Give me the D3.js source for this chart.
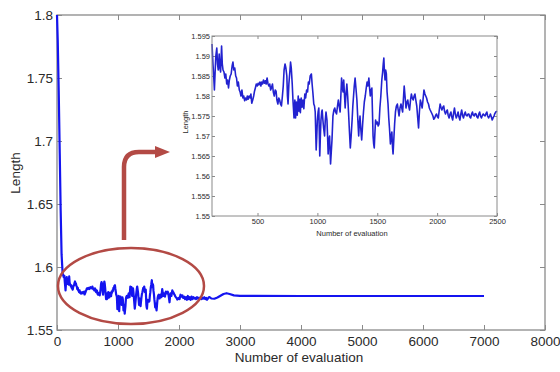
<!DOCTYPE html>
<html>
<head>
<meta charset="utf-8">
<script src="https://cdn.jsdelivr.net/npm/d3@7"></script>
<style>
body { margin: 0; background: #fff; }
text { font-family: "Liberation Sans", Arial, sans-serif; fill: #2a2a2a; }
</style>
</head>
<body>
<div id="chart"></div>
<script>
// first evaluations: the steep drop from 1.8
const headRun = [[0, 1.8], [12, 1.78], [28, 1.74], [45, 1.69], [60, 1.645], [75, 1.61], [92, 1.595], [110, 1.592]];

// evaluations 120..2500 (shown in the inset)
const zoomRun = [
  [120, 1.5930], [128, 1.5880], [134, 1.5850], [140, 1.5815], [146, 1.5860], [152, 1.5900], [160, 1.5920],
  [166, 1.5880], [172, 1.5865], [180, 1.5905], [186, 1.5870], [192, 1.5860], [200, 1.5925], [206, 1.5880],
  [212, 1.5865], [220, 1.5860], [228, 1.5845], [235, 1.5855], [243, 1.5830], [250, 1.5840], [258, 1.5820],
  [265, 1.5840], [272, 1.5850], [280, 1.5855], [288, 1.5875], [295, 1.5885], [302, 1.5865], [310, 1.5870],
  [318, 1.5850], [325, 1.5845], [332, 1.5825], [340, 1.5835], [348, 1.5815], [355, 1.5810], [362, 1.5800],
  [370, 1.5815], [378, 1.5795], [385, 1.5800], [393, 1.5788], [400, 1.5795], [408, 1.5790], [415, 1.5800],
  [422, 1.5792], [430, 1.5800], [438, 1.5795], [445, 1.5805], [452, 1.5782], [460, 1.5790], [468, 1.5800],
  [475, 1.5812], [482, 1.5820], [490, 1.5830], [498, 1.5825], [505, 1.5832], [512, 1.5828], [520, 1.5835],
  [528, 1.5825], [535, 1.5835], [542, 1.5830], [550, 1.5840], [558, 1.5832], [565, 1.5838], [572, 1.5830],
  [580, 1.5845], [588, 1.5830], [595, 1.5825], [602, 1.5830], [610, 1.5815], [618, 1.5822], [625, 1.5830],
  [632, 1.5810], [640, 1.5800], [648, 1.5815], [655, 1.5812], [662, 1.5790], [670, 1.5780], [678, 1.5795],
  [685, 1.5790], [692, 1.5780], [700, 1.5775], [708, 1.5800], [715, 1.5825], [722, 1.5865], [730, 1.5880],
  [737, 1.5870], [745, 1.5850], [750, 1.5800], [755, 1.5780], [762, 1.5830], [770, 1.5860], [776, 1.5885],
  [782, 1.5870], [790, 1.5830], [796, 1.5790], [800, 1.5770], [805, 1.5745], [812, 1.5790], [818, 1.5745],
  [825, 1.5785], [832, 1.5752], [840, 1.5800], [846, 1.5762], [852, 1.5792], [858, 1.5758], [865, 1.5795],
  [872, 1.5772], [880, 1.5790], [887, 1.5768], [895, 1.5805], [902, 1.5795], [910, 1.5815], [918, 1.5810],
  [925, 1.5835], [932, 1.5830], [940, 1.5850], [950, 1.5855], [956, 1.5830], [962, 1.5810], [970, 1.5780],
  [976, 1.5775], [982, 1.5760], [990, 1.5665], [995, 1.5700], [1000, 1.5740], [1006, 1.5760], [1012, 1.5770],
  [1020, 1.5650], [1025, 1.5700], [1030, 1.5740], [1036, 1.5760], [1040, 1.5765], [1046, 1.5740],
  [1052, 1.5720], [1060, 1.5700], [1066, 1.5740], [1072, 1.5760], [1080, 1.5740], [1085, 1.5700],
  [1090, 1.5655], [1096, 1.5690], [1102, 1.5700], [1110, 1.5630], [1116, 1.5660], [1122, 1.5690],
  [1130, 1.5750], [1138, 1.5765], [1145, 1.5770], [1152, 1.5760], [1160, 1.5755], [1168, 1.5775],
  [1175, 1.5790], [1182, 1.5775], [1190, 1.5760], [1196, 1.5800], [1202, 1.5845], [1208, 1.5825],
  [1214, 1.5810], [1220, 1.5840], [1226, 1.5805], [1232, 1.5770], [1240, 1.5810], [1246, 1.5830],
  [1253, 1.5800], [1260, 1.5760], [1268, 1.5710], [1275, 1.5670], [1282, 1.5700], [1290, 1.5740],
  [1296, 1.5775], [1302, 1.5800], [1308, 1.5825], [1315, 1.5845], [1322, 1.5820], [1330, 1.5790],
  [1338, 1.5740], [1345, 1.5700], [1350, 1.5730], [1356, 1.5750], [1362, 1.5720], [1370, 1.5690],
  [1378, 1.5730], [1385, 1.5760], [1392, 1.5785], [1400, 1.5800], [1408, 1.5820], [1415, 1.5835],
  [1422, 1.5825], [1430, 1.5845], [1436, 1.5820], [1442, 1.5800], [1448, 1.5815], [1455, 1.5820],
  [1460, 1.5760], [1465, 1.5700], [1470, 1.5680], [1475, 1.5670], [1480, 1.5705], [1486, 1.5740],
  [1493, 1.5730], [1500, 1.5735], [1508, 1.5725], [1515, 1.5730], [1522, 1.5770], [1530, 1.5800],
  [1538, 1.5840], [1545, 1.5860], [1550, 1.5880], [1555, 1.5895], [1560, 1.5860], [1565, 1.5840],
  [1570, 1.5865], [1576, 1.5855], [1582, 1.5810], [1590, 1.5780], [1596, 1.5745], [1602, 1.5720],
  [1610, 1.5680], [1616, 1.5700], [1622, 1.5710], [1628, 1.5670], [1632, 1.5655], [1638, 1.5690],
  [1645, 1.5730], [1652, 1.5760], [1660, 1.5775], [1668, 1.5780], [1675, 1.5765], [1682, 1.5750],
  [1690, 1.5770], [1698, 1.5780], [1705, 1.5770], [1712, 1.5760], [1718, 1.5790], [1725, 1.5825],
  [1732, 1.5800], [1740, 1.5770], [1748, 1.5785], [1755, 1.5790], [1762, 1.5775], [1770, 1.5765],
  [1778, 1.5790], [1785, 1.5805], [1792, 1.5795], [1800, 1.5790], [1808, 1.5800], [1815, 1.5805],
  [1822, 1.5790], [1830, 1.5775], [1838, 1.5745], [1845, 1.5720], [1852, 1.5760], [1860, 1.5790],
  [1868, 1.5780], [1875, 1.5770], [1882, 1.5790], [1890, 1.5815], [1898, 1.5805], [1905, 1.5800],
  [1912, 1.5795], [1920, 1.5785], [1928, 1.5780], [1935, 1.5770], [1942, 1.5765], [1950, 1.5760],
  [1958, 1.5755], [1965, 1.5750], [1972, 1.5742], [1980, 1.5745], [1988, 1.5752], [1995, 1.5755],
  [2002, 1.5748], [2010, 1.5745], [2018, 1.5765], [2025, 1.5780], [2032, 1.5772], [2040, 1.5765],
  [2048, 1.5772], [2055, 1.5775], [2062, 1.5762], [2070, 1.5755], [2078, 1.5762], [2085, 1.5765],
  [2092, 1.5752], [2100, 1.5745], [2108, 1.5755], [2115, 1.5760], [2122, 1.5748], [2130, 1.5740],
  [2138, 1.5758], [2145, 1.5770], [2152, 1.5755], [2160, 1.5745], [2168, 1.5752], [2175, 1.5760],
  [2182, 1.5748], [2190, 1.5740], [2198, 1.5755], [2205, 1.5765], [2212, 1.5752], [2220, 1.5745],
  [2228, 1.5755], [2235, 1.5760], [2242, 1.5752], [2250, 1.5750], [2258, 1.5755], [2265, 1.5755],
  [2272, 1.5748], [2280, 1.5745], [2288, 1.5755], [2295, 1.5760], [2302, 1.5752], [2310, 1.5750],
  [2318, 1.5756], [2325, 1.5755], [2332, 1.5748], [2340, 1.5745], [2348, 1.5755], [2355, 1.5760],
  [2362, 1.5750], [2370, 1.5745], [2378, 1.5752], [2385, 1.5755], [2392, 1.5752], [2400, 1.5750],
  [2408, 1.5756], [2415, 1.5760], [2422, 1.5750], [2430, 1.5745], [2438, 1.5750], [2445, 1.5755],
  [2452, 1.5748], [2460, 1.5740], [2468, 1.5746], [2475, 1.5750], [2482, 1.5756], [2490, 1.5760],
  [2500, 1.5762]
];

// after 2500: settles
const tailRun = [[2530, 1.5750], [2580, 1.5748], [2630, 1.5758], [2680, 1.5772], [2730, 1.5786], [2780, 1.5792],
  [2830, 1.5786], [2900, 1.5775], [3000, 1.5771], [4000, 1.5770], [5000, 1.5770], [6000, 1.5770], [7000, 1.5770]];

const mainXTicks = [0, 1000, 2000, 3000, 4000, 5000, 6000, 7000, 8000];
const mainYTicks = [1.55, 1.6, 1.65, 1.7, 1.75, 1.8];
const zoomXTicks = [500, 1000, 1500, 2000, 2500];
const zoomYTicks = [1.55, 1.555, 1.56, 1.565, 1.57, 1.575, 1.58, 1.585, 1.59, 1.595];

let width = 560, height = 372;
let svg = d3.select("#chart").append("svg").attr("width", width).attr("height", height);

const axisGrey = "#8a8a8a";
const styleAxis = (g, size) => {
  g.select(".domain").remove();
  g.selectAll("line").attr("stroke", axisGrey).attr("stroke-width", 1);
  g.selectAll("text").style("font-size", size + "px").attr("fill", "#2a2a2a");
};

// ---- main plot
let x = d3.scaleLinear().domain([0, 8000]).range([57, 545]);
let y = d3.scaleLinear().domain([1.55, 1.8]).range([330, 15]);

svg.append("g").attr("transform", "translate(0,330)")
  .call(d3.axisBottom(x).tickValues(mainXTicks).tickSizeInner(-5).tickSizeOuter(0).tickPadding(6).tickFormat(d3.format("")))
  .call(g => styleAxis(g, 13.5));
svg.append("g").attr("transform", "translate(0,15)")
  .call(d3.axisTop(x).tickValues(mainXTicks).tickSizeInner(-5).tickSizeOuter(0).tickFormat(""))
  .call(g => styleAxis(g, 13.5));
svg.append("g").attr("transform", "translate(57,0)")
  .call(d3.axisLeft(y).tickValues(mainYTicks).tickSizeInner(-5).tickSizeOuter(0).tickPadding(4).tickFormat(d3.format("")))
  .call(g => styleAxis(g, 13.5));
svg.append("g").attr("transform", "translate(545,0)")
  .call(d3.axisRight(y).tickValues(mainYTicks).tickSizeInner(-5).tickSizeOuter(0).tickFormat(""))
  .call(g => styleAxis(g, 13.5));
svg.append("rect").attr("x", 57).attr("y", 15).attr("width", 488).attr("height", 315)
  .attr("fill", "none").attr("stroke", axisGrey).attr("stroke-width", 1.3);

svg.append("text").attr("x", 299).attr("y", 362).attr("text-anchor", "middle")
  .style("font-size", "13.5px").text("Number of evaluation");
svg.append("text").attr("transform", "translate(20,173) rotate(-90)").attr("text-anchor", "middle")
  .style("font-size", "13.5px").text("Length");

let line = d3.line().x(d => x(d[0])).y(d => y(d[1]));
let fullRun = headRun.concat(zoomRun, tailRun);
svg.append("path").datum(fullRun).attr("d", line)
  .attr("fill", "none").attr("stroke", "#1414f0").attr("stroke-width", 2.2).attr("stroke-linejoin", "round");

// ---- red ellipse and arrow
const red = "#b34a45";
svg.append("ellipse").attr("cx", 131).attr("cy", 286).attr("rx", 73).attr("ry", 38)
  .attr("fill", "none").attr("stroke", red).attr("stroke-width", 2.5);
svg.append("path").attr("d", "M124,240 L124,167 Q124,152 139,152 L158,152")
  .attr("fill", "none").attr("stroke", red).attr("stroke-width", 4.5);
svg.append("path").attr("d", "M155,146 L170,152 L155,158 Z").attr("fill", red);

// ---- inset
let ix = d3.scaleLinear().domain([120, 2500]).range([212, 497]);
let iy = d3.scaleLinear().domain([1.55, 1.595]).range([216, 36]);

svg.append("rect").attr("x", 212).attr("y", 36).attr("width", 285).attr("height", 180).attr("fill", "#fff");
svg.append("g").attr("transform", "translate(0,216)")
  .call(d3.axisBottom(ix).tickValues(zoomXTicks).tickSizeInner(-3).tickSizeOuter(0).tickPadding(3).tickFormat(d3.format("")))
  .call(g => styleAxis(g, 7.5));
svg.append("g").attr("transform", "translate(0,36)")
  .call(d3.axisTop(ix).tickValues(zoomXTicks).tickSizeInner(-3).tickSizeOuter(0).tickFormat(""))
  .call(g => styleAxis(g, 7.5));
svg.append("g").attr("transform", "translate(212,0)")
  .call(d3.axisLeft(iy).tickValues(zoomYTicks).tickSizeInner(-3).tickSizeOuter(0).tickPadding(2).tickFormat(d3.format("")))
  .call(g => styleAxis(g, 7.5));
svg.append("g").attr("transform", "translate(497,0)")
  .call(d3.axisRight(iy).tickValues(zoomYTicks).tickSizeInner(-3).tickSizeOuter(0).tickFormat(""))
  .call(g => styleAxis(g, 7.5));

let iline = d3.line().x(d => ix(d[0])).y(d => iy(d[1]));
svg.append("path").datum(zoomRun).attr("d", iline)
  .attr("fill", "none").attr("stroke", "#2222d0").attr("stroke-width", 1.6).attr("stroke-linejoin", "round");

svg.append("rect").attr("x", 212).attr("y", 36).attr("width", 285).attr("height", 180)
  .attr("fill", "none").attr("stroke", axisGrey).attr("stroke-width", 1);

svg.append("text").attr("x", 352).attr("y", 236).attr("text-anchor", "middle")
  .style("font-size", "7.5px").text("Number of evaluation");
svg.append("text").attr("transform", "translate(188,122) rotate(-90)").attr("text-anchor", "middle")
  .style("font-size", "7.5px").text("Length");
</script>
</body>
</html>
